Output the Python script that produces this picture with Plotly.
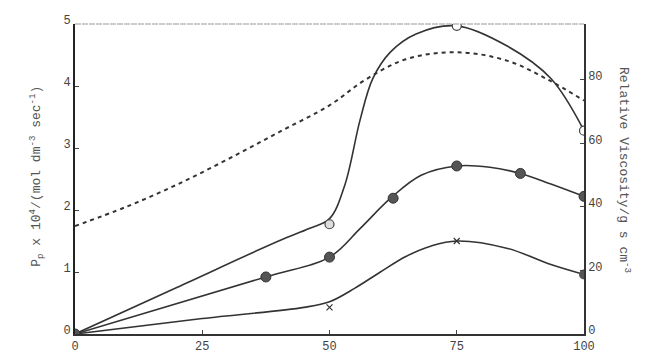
import plotly.graph_objects as go

# ---- data ----
# top curve (open circles), left axis
top_curve_x = [0, 20, 40, 46, 50, 53, 56, 58.5, 62, 67, 75, 85, 93.5, 100]
top_curve_y = [0, 0.75, 1.5, 1.7, 1.86, 2.4, 3.45, 4.12, 4.55, 4.84, 4.97, 4.64, 4.12, 3.28]
top_pts_x = [50, 75, 100]
top_pts_y = [1.77, 4.97, 3.28]

# middle curve (filled circles), left axis
mid_curve_x = [0, 37.5, 50, 56, 62, 68, 75, 81.5, 87.5, 93.5, 100]
mid_curve_y = [0, 0.92, 1.24, 1.7, 2.19, 2.56, 2.71, 2.69, 2.59, 2.42, 2.22]
mid_pts_x = [0, 37.5, 50, 62.5, 75, 87.5, 100]
mid_pts_y = [0, 0.92, 1.24, 2.19, 2.71, 2.59, 2.22]

# bottom curve (crosses), left axis
bot_curve_x = [0, 25, 45, 50, 55, 60, 65, 70, 75, 85, 93.5, 100]
bot_curve_y = [0, 0.25, 0.43, 0.52, 0.74, 1.0, 1.25, 1.42, 1.5, 1.38, 1.12, 0.96]
bot_pts_x = [50, 75]
bot_pts_y = [0.43, 1.5]
bot_end_x = [100]
bot_end_y = [0.96]

# dashed curve: relative viscosity, right axis
visc_x = [0, 10, 20, 30, 40, 50, 57, 65, 75, 85, 93, 100]
visc_y = [34, 40, 47, 55, 63.5, 72, 80, 86.5, 88.7, 86, 80, 73.5]

x_ticks = [0, 25, 50, 75, 100]
y_ticks = [0, 1, 2, 3, 4, 5]
y2_ticks = [0, 20, 40, 60, 80]

LINE = "#333333"
FONT = "Liberation Mono"

fig = go.Figure()

fig.add_trace(go.Scatter(x=visc_x, y=visc_y, yaxis="y2", mode="lines",
                         line=dict(color=LINE, width=2, dash="4px,4px", shape="spline", smoothing=1),
                         showlegend=False))
fig.add_trace(go.Scatter(x=top_curve_x, y=top_curve_y, mode="lines",
                         line=dict(color=LINE, width=1.6, shape="spline", smoothing=1),
                         showlegend=False))
fig.add_trace(go.Scatter(x=mid_curve_x, y=mid_curve_y, mode="lines",
                         line=dict(color=LINE, width=1.6, shape="spline", smoothing=1),
                         showlegend=False))
fig.add_trace(go.Scatter(x=bot_curve_x, y=bot_curve_y, mode="lines",
                         line=dict(color=LINE, width=1.6, shape="spline", smoothing=1),
                         showlegend=False))

fig.add_trace(go.Scatter(x=top_pts_x, y=top_pts_y, mode="markers", cliponaxis=True,
                         marker=dict(symbol="circle", size=9, color=["#dddddd", "#ffffff", "#ffffff"],
                                     line=dict(color="#444444", width=1.2)),
                         showlegend=False))
fig.add_trace(go.Scatter(x=mid_pts_x, y=mid_pts_y, mode="markers", cliponaxis=True,
                         marker=dict(symbol="circle", size=10, color="#555555",
                                     line=dict(color="#333333", width=1)),
                         showlegend=False))
fig.add_trace(go.Scatter(x=bot_pts_x, y=bot_pts_y, mode="markers",
                         marker=dict(symbol="x-thin", size=6, color="#333333",
                                     line=dict(color="#333333", width=1.2)),
                         showlegend=False))
fig.add_trace(go.Scatter(x=bot_end_x, y=bot_end_y, mode="markers", cliponaxis=True,
                         marker=dict(symbol="circle", size=10, color="#555555"),
                         showlegend=False))

fig.update_layout(
    width=650, height=360,
    margin=dict(l=67, r=74, t=16, b=34),
    paper_bgcolor="white", plot_bgcolor="white",
    font=dict(family=FONT, size=12, color="#444444"),
    xaxis=dict(range=[0, 100], tickvals=x_ticks, ticktext=[str(v) for v in x_ticks],
               showgrid=False, zeroline=False, showline=True, linecolor="#333333", linewidth=2,
               ticks="inside", ticklen=4, tickcolor="#444444", automargin=False),
    yaxis=dict(range=[0, 5], tickvals=y_ticks, showgrid=False, zeroline=False,
               showline=True, linecolor="#222222", linewidth=2, ticklabelshift=-4,
               ticks="inside", ticklen=4, tickcolor="#444444", automargin=False),
    yaxis2=dict(range=[0, 97.6], tickvals=y2_ticks, overlaying="y", side="right",
                showgrid=False, zeroline=False, showline=True, linecolor="#333333", linewidth=1.5,
                ticklabelshift=-4, automargin=False,
                ticks="inside", ticklen=4, tickcolor="#444444"),
    shapes=[dict(type="line", xref="paper", yref="paper", x0=0, x1=1, y0=1, y1=1,
                 line=dict(color="#999999", width=1, dash="6px,1px"))],
    annotations=[
        dict(text="P<sub>p</sub> x 10<sup>4</sup>/(mol dm<sup>-3</sup> sec<sup>-1</sup>)",
             xref="paper", yref="paper", x=-0.075, y=0.51, showarrow=False, textangle=-90,
             xanchor="center", yanchor="middle", font=dict(family=FONT, size=13, color="#555555")),
        dict(text="Relative Viscosity/g s cm<sup>-3</sup>",
             xref="paper", yref="paper", x=1.08, y=0.53, showarrow=False, textangle=90,
             xanchor="center", yanchor="middle", font=dict(family=FONT, size=13, color="#555555")),
    ],
)

fig.write_html("out.html")
